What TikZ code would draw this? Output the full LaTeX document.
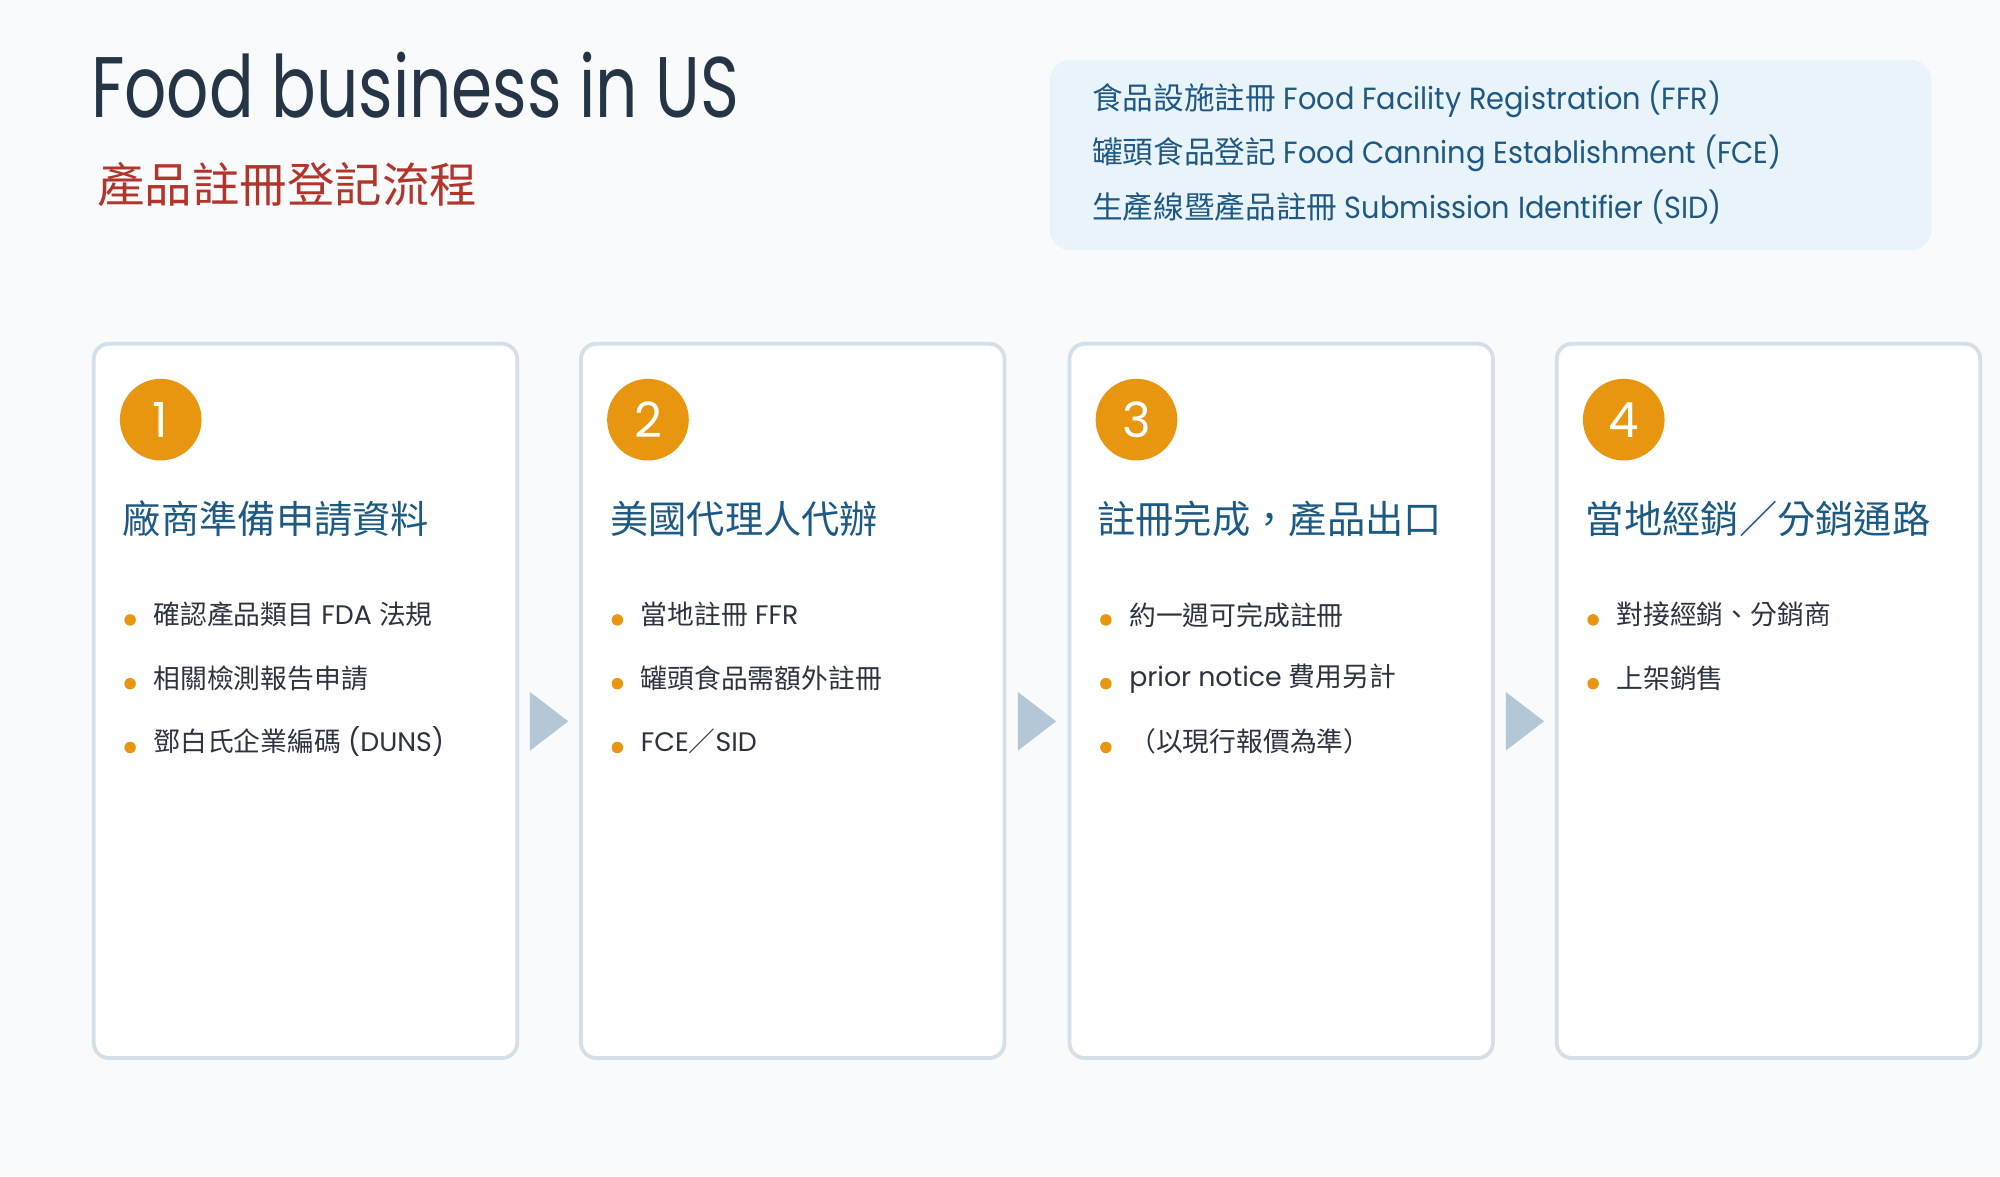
\documentclass[tikz,border=0pt]{standalone}
\usepackage{fontspec}
\setmainfont{Poppins}
\newfontfamily\titlefont{Poppins}[FakeStretch=0.77]
\newfontfamily\infofont{Poppins}[FakeStretch=0.94]
\newfontfamily\cjk{Noto Sans CJK TC}
\usetikzlibrary{positioning, calc}

\definecolor{pagebg}{HTML}{F8FAFC}
\definecolor{titleink}{HTML}{263545}
\definecolor{titlered}{HTML}{B2352B}
\definecolor{infofill}{HTML}{E8F3FA}
\definecolor{infoink}{HTML}{1F5883}
\definecolor{cardline}{HTML}{D5DFE8}
\definecolor{badgeorange}{HTML}{E8960F}
\definecolor{headblue}{HTML}{1C5A84}
\definecolor{bodyink}{HTML}{2D3440}
\definecolor{flowgray}{HTML}{B4C7D7}

\newcommand{\zh}[1]{{\cjk #1}}

\tikzset{
  card/.style={draw=cardline, line width=1.5pt, fill=white, rounded corners=6pt,
    minimum width=166pt, minimum height=280pt, inner sep=0pt},
  badge/.style={circle, fill=badgeorange, text=white, minimum size=32pt, inner sep=0pt,
    font=\fontsize{19}{19}\selectfont},
  heading/.style={anchor=west, inner sep=0pt, text=headblue, font=\fontsize{15}{15}\selectfont},
  item/.style={anchor=west, inner sep=0pt, text=bodyink, font=\fontsize{10.5}{10.5}\selectfont},
  infoline/.style={anchor=west, inner sep=0pt, text=infoink, font=\infofont\fontsize{12}{12}\selectfont},
  dotc/.style={fill=badgeorange},
  flowtip/.style={fill=flowgray}
}

\begin{document}
\begin{tikzpicture}[x=0.5pt, y=-0.5pt]
  \useasboundingbox (0,0) rectangle (1568,922);
  \fill[pagebg] (0,0) rectangle (1568,922);

  % title
  \node[anchor=base west, inner sep=0pt, text=titleink, font=\titlefont\fontsize{33.7}{34}\selectfont]
    (title) at (71,92) {Food business in US};
  \node[anchor=west, inner sep=0pt, text=titlered, font=\fontsize{18.6}{19}\selectfont]
    (subtitle) at (76,145) {\zh{產品註冊登記流程}};

  % info box
  \fill[infofill, rounded corners=8pt] (823,47) rectangle (1514,196);
  \node[infoline] (ffr) at (856,78)  {\zh{食品設施註冊} Food Facility Registration (FFR)};
  \node[infoline] (fce) at (856,120) {\zh{罐頭食品登記} Food Canning Establishment (FCE)};
  \node[infoline] (sid) at (856,162) {\zh{生產線暨產品註冊} Submission Identifier (SID)};

  % cards and badges
  \foreach \i/\x in {1/72, 2/454, 3/837, 4/1219} {
    \node[card, anchor=north west] (card\i) at (\x,268) {};
    \node[badge] (badge\i) at ($(card\i.north west)+(54,61)$) {\i};
  }

  % flow arrows
  \foreach \i/\j in {1/2, 2/3, 3/4} {
    \coordinate (tip\i) at ($(card\i.east)!0.5!(card\j.west)+(0,16)$);
    \fill[flowtip] (tip\i) ++(-15,-23) -- ++(30,23) -- ++(-30,23) -- cycle;
  }

  % headings
  \node[heading] (head1) at (96,407)   {\zh{廠商準備申請資料}};
  \node[heading] (head2) at (478,407)  {\zh{美國代理人代辦}};
  \node[heading] (head3) at (860,407)  {\zh{註冊完成，產品出口}};
  \node[heading] (head4) at (1243,407) {\zh{當地經銷／分銷通路}};

  % bullets, card 1
  \fill[dotc] (102,486) circle (4.5);
  \fill[dotc] (102,536) circle (4.5);
  \fill[dotc] (102,586) circle (4.5);
  \node[item] (item11) at (120,482) {\zh{確認產品類目} FDA \zh{法規}};
  \node[item] (item12) at (120,532) {\zh{相關檢測報告申請}};
  \node[item] (item13) at (120,581) {\zh{鄧白氏企業編碼} (DUNS)};

  % bullets, card 2
  \fill[dotc] (484,486) circle (4.5);
  \fill[dotc] (484,536) circle (4.5);
  \fill[dotc] (484,586) circle (4.5);
  \node[item] (item21) at (502,482) {\zh{當地註冊} FFR};
  \node[item] (item22) at (502,532) {\zh{罐頭食品需額外註冊}};
  \node[item] (item23) at (502,581) {FCE\zh{／}SID};

  % bullets, card 3
  \fill[dotc] (867,486) circle (4.5);
  \fill[dotc] (867,536) circle (4.5);
  \fill[dotc] (867,586) circle (4.5);
  \node[item] (item31) at (885,482) {\zh{約一週可完成註冊}};
  \node[item] (item32) at (885,532) {prior notice \zh{費用另計}};
  \node[item] (item33) at (885,581) {\zh{（以現行報價為準）}};

  % bullets, card 4
  \fill[dotc] (1249,486) circle (4.5);
  \fill[dotc] (1249,536) circle (4.5);
  \node[item] (item41) at (1267,482) {\zh{對接經銷、分銷商}};
  \node[item] (item42) at (1267,532) {\zh{上架銷售}};
\end{tikzpicture}
\end{document}
